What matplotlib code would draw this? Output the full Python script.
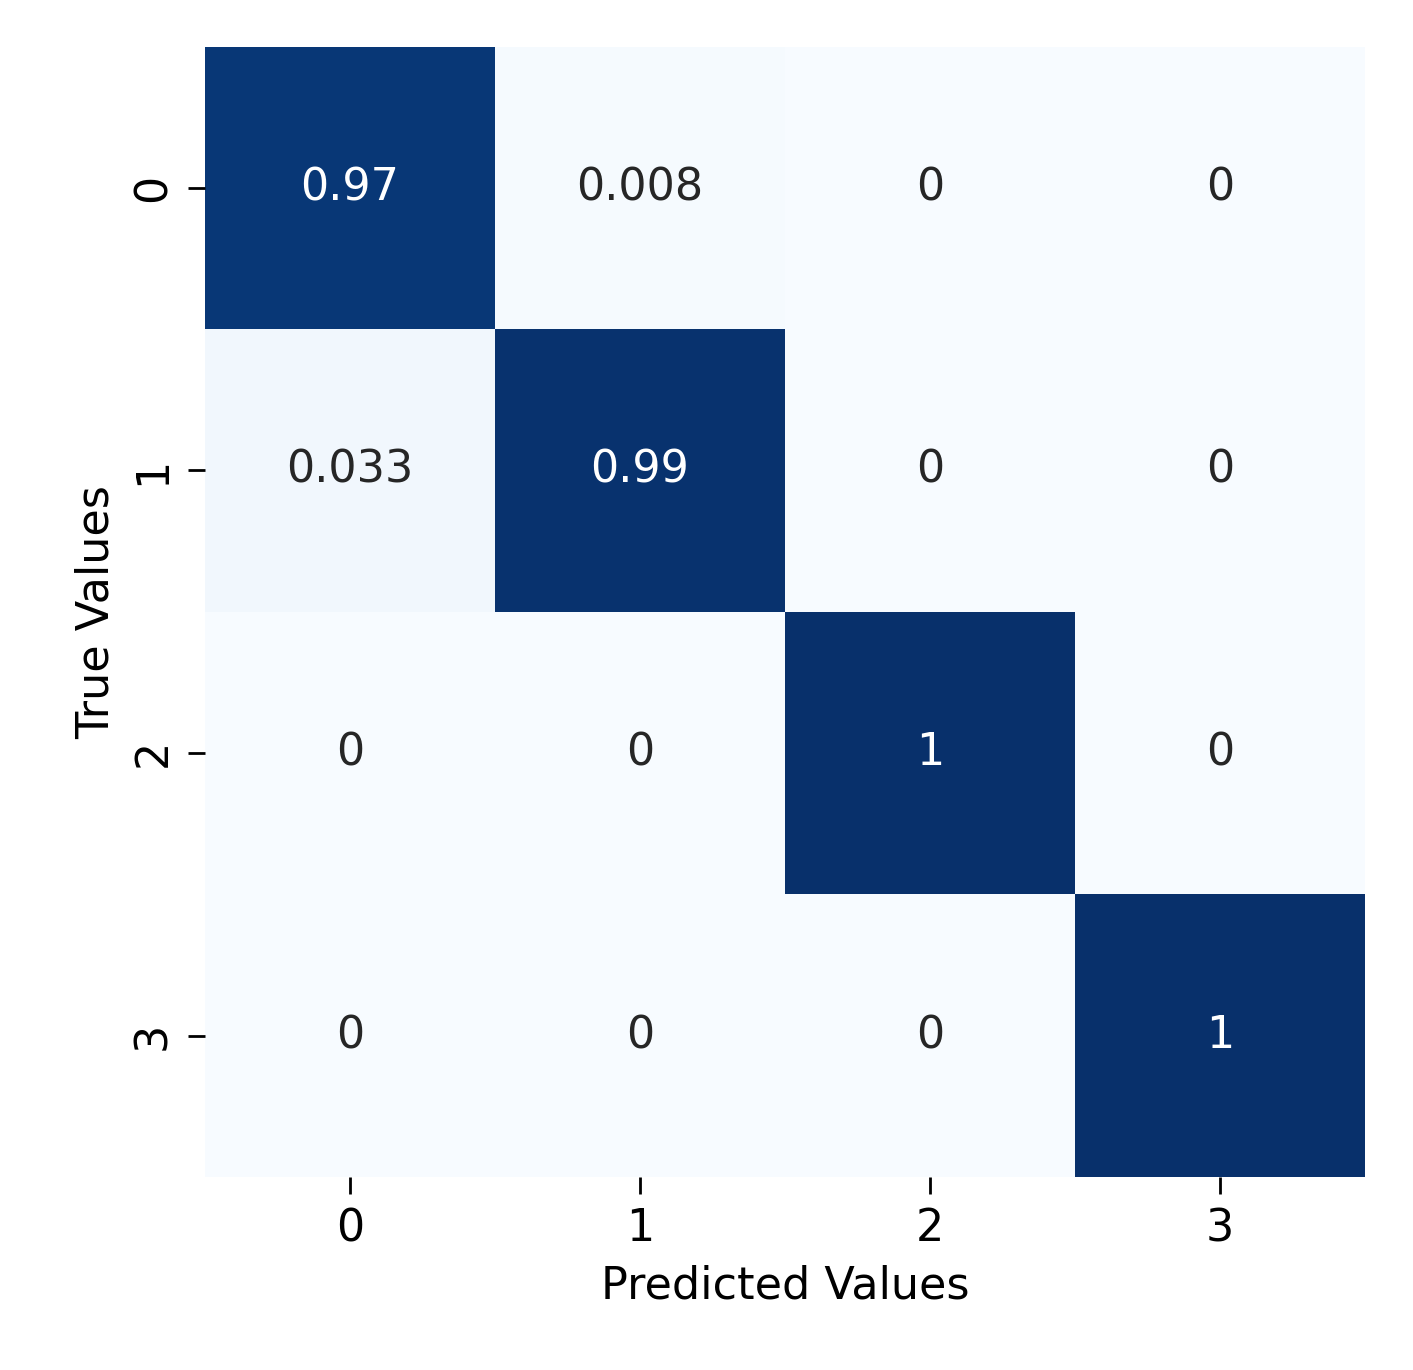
import numpy as np
import matplotlib
matplotlib.use('Agg')
import matplotlib.pyplot as plt
import seaborn as sns

# confusion matrix values (normalised)
labels = ['0', '1', '2', '3']
row0 = [0.97, 0.008, 0, 0]
row1 = [0.033, 0.99, 0, 0]
row2 = [0, 0, 1, 0]
row3 = [0, 0, 0, 1]
cm = np.array([row0, row1, row2, row3])

fig = plt.figure(figsize=(14.13, 13.7), dpi=100)
ax = fig.add_axes([0.145, 0.141, 0.821, 0.825])
sns.heatmap(cm, annot=True, fmt='.2g', cmap='Blues', cbar=False, vmin=0, vmax=1,
            xticklabels=labels, yticklabels=labels, ax=ax,
            annot_kws={'fontsize': 32})
ax.tick_params(labelsize=32, length=12, width=2, pad=10)
ax.set_xlabel('Predicted Values', fontsize=32, labelpad=10)
ax.set_ylabel('True Values', fontsize=32, labelpad=10)

plt.savefig('out.png', dpi=100)
